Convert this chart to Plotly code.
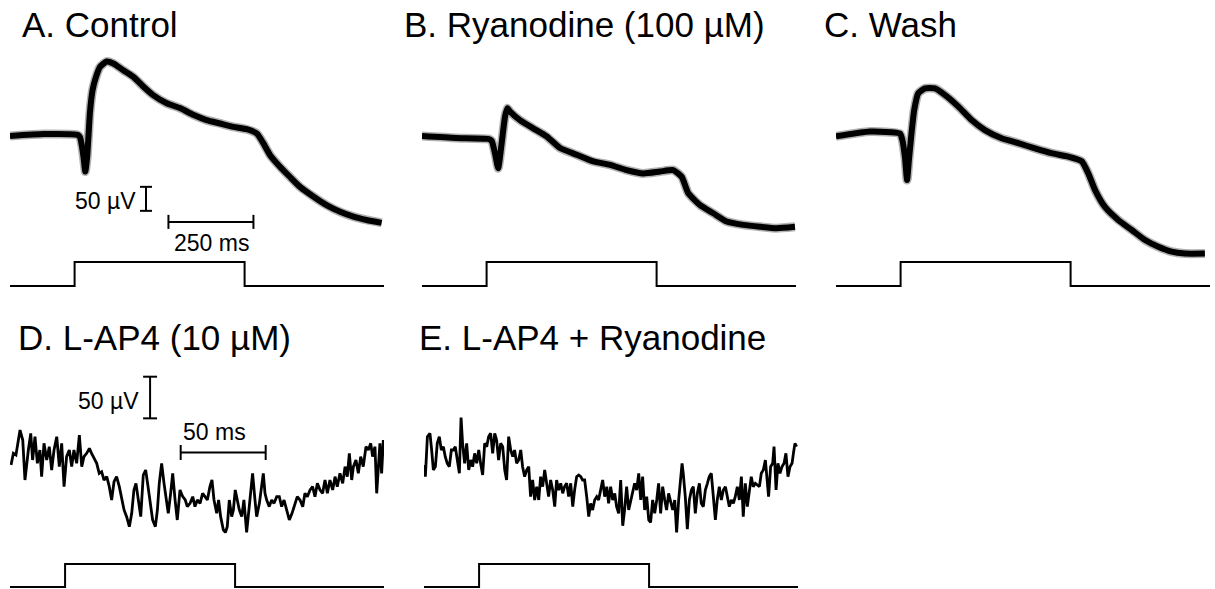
import plotly.graph_objects as go

W, H = 1215, 589

# ---------------- data (time in ms, potential in microvolts) ----------------
a_t = [0, 100, 200, 206, 212, 216, 221.5, 227, 231, 235, 243, 253, 265, 284, 304, 333, 363, 392, 421, 461,
       500, 539, 578, 618, 657, 696, 726, 745, 765, 794, 823, 853, 892, 931, 971, 1010, 1049, 1093]
a_v = [-2, 2, 0, -5, -25, -45, -76, -45, 0, 46, 94, 121, 142, 153, 149, 135, 121, 101, 83, 66,
       56, 42, 31, 24, 17, 12, 3, -17, -42, -66, -87, -108, -128, -146, -160, -170, -177, -183]

b_t = [0, 100, 195, 205, 215, 224, 234, 244, 251, 259, 288, 327, 367, 406, 455, 504, 553, 602, 651, 700,
       739, 764, 783, 818, 857, 896, 945, 994, 1043, 1097]
b_v = [2, -2, -4, -8, -35, -65, -15, 42, 60, 53, 35, 18, 1, -23, -37, -51, -58, -69, -76, -72,
       -69, -83, -117, -142, -159, -176, -183, -187, -190, -187]

c_t = [0, 100, 188, 195, 203, 209, 215, 221, 230, 242, 262, 291, 321, 360, 399, 438, 487, 536, 585,
       634, 683, 723, 742, 762, 791, 830, 870, 909, 948, 987, 1026, 1085]
c_v = [-5, 5, 1, -12, -50, -96, -50, -6, 50, 85, 95, 95, 81, 57, 29, 8, -9, -19, -30,
       -40, -47, -57, -82, -117, -152, -179, -200, -221, -235, -245, -249, -249]

d_t = [0.6, 2.0, 3.5, 5.9, 7.5, 8.8, 10.8, 12.2, 13.3, 14.7,
       16.1, 17.6, 18.6, 20.0, 21.6, 23.1, 24.5, 25.9, 27.5, 29.0,
       30.4, 31.8, 33.3, 34.9, 36.3, 37.6, 39.2, 40.8, 42.2, 43.5,
       45.1, 46.7, 48.0, 49.4, 51.0, 52.5, 53.9, 55.3, 56.9, 58.4,
       59.8, 61.2, 62.7, 64.3, 65.7, 67.1, 68.6, 70.2, 71.6, 72.9,
       74.1, 75.5, 76.9, 78.4, 79.8, 81.2, 82.4, 83.9, 85.5, 86.7,
       87.8, 89.2, 90.6, 92.2, 93.1, 94.5, 95.7, 97.1, 98.4, 100.0,
       101.6, 103.1, 104.3, 105.9, 107.5, 108.8, 110.2, 111.8, 113.3, 114.7,
       116.1, 117.6, 118.8, 120.0, 121.6, 122.7, 123.9, 125.5, 126.7, 127.8,
       129.0, 130.4, 131.4, 132.5, 133.7, 134.9, 136.3, 137.6, 139.2, 140.4,
       141.6, 142.7, 144.1, 145.1, 146.7, 148.0, 149.0, 150.0, 151.0, 152.5,
       153.9, 155.3, 156.9, 158.4, 159.8, 161.2, 162.7, 164.3, 165.9, 167.5,
       169.0, 170.6, 172.2, 173.5, 174.9, 176.5, 178.0, 179.4, 180.8, 182.4,
       183.9, 185.3, 186.7, 188.2, 189.8, 191.2, 192.5, 194.1, 195.7, 197.1,
       198.4, 199.6, 201.0, 202.0, 203.5, 204.9, 206.3, 207.8, 209.4, 210.8,
       212.2, 213.3, 214.7, 215.7, 216.9, 217.6, 218.6, 219.6]
d_v = [6, 20, 18, 48, 36, -12, 24, 44, 12, 40,
       8, 24, -8, 32, 12, 28, 0, 24, 40, 4,
       32, -20, 16, 24, 4, 24, 8, 42, 4, 16,
       20, 26, 20, 14, 8, -4, -2, -12, -8, -20,
       -36, -14, -8, -20, -36, -48, -56, -68, -52, -24,
       -16, -36, -56, -6, 0, -20, -36, -60, -68, -48,
       -16, 8, -16, -36, -52, -28, -4, -36, -60, -24,
       -32, -36, -44, -40, -32, -44, -36, -40, -28, -32,
       -36, -20, -12, -36, -52, -36, -56, -72, -75, -68,
       -36, -56, -48, -24, -36, -48, -56, -36, -75, -52,
       -32, -4, -36, -56, -40, -20, -4, -28, -36, -44,
       -36, -40, -32, -32, -44, -36, -48, -60, -52, -40,
       -32, -36, -44, -28, -32, -24, -20, -32, -16, -24,
       -28, -12, -28, -12, -24, -8, -20, -4, -16, 4,
       -8, 20, -12, 4, 12, -4, 16, 4, 28, 24,
       32, 16, 28, -28, 12, 32, -4, 36]

e_t = [0.0, 0.8, 2.0, 3.5, 4.5, 5.5, 6.7, 7.8, 9.0, 10.2,
       11.4, 12.5, 13.7, 14.9, 16.1, 17.3, 18.4, 19.6, 20.8, 21.8,
       22.7, 23.9, 25.1, 26.3, 27.5, 28.6, 29.8, 31.0, 32.2, 33.3,
       34.5, 35.7, 36.9, 38.0, 39.2, 40.4, 41.6, 42.7, 43.9, 45.1,
       46.3, 47.5, 48.6, 49.8, 51.0, 52.2, 53.3, 54.5, 55.7, 56.9,
       58.0, 59.2, 60.4, 61.6, 62.7, 63.9, 65.1, 66.3, 67.5, 68.6,
       69.8, 71.0, 72.2, 73.3, 74.5, 75.7, 76.9, 78.0, 79.2, 80.4,
       81.6, 82.7, 83.9, 85.1, 86.3, 87.5, 88.6, 89.8, 91.0, 92.2,
       93.3, 94.5, 95.7, 96.9, 98.0, 99.2, 100.4, 101.6, 102.7, 103.9,
       105.1, 106.3, 107.5, 108.6, 109.8, 111.0, 112.2, 113.3, 114.5, 115.7,
       116.9, 118.0, 119.2, 120.4, 121.6, 122.7, 123.9, 125.1, 126.3, 127.5,
       128.6, 129.8, 131.0, 132.2, 133.3, 134.5, 135.7, 136.9, 138.0, 139.2,
       140.4, 141.6, 142.7, 143.9, 145.1, 146.3, 147.5, 148.6, 149.8, 151.0,
       151.8, 152.5, 153.7, 154.9, 156.1, 157.3, 158.4, 159.6, 160.8, 162.0,
       163.1, 164.3, 165.5, 166.7, 167.8, 169.0, 170.2, 171.4, 172.5, 173.7,
       174.9, 176.1, 177.3, 178.4, 179.6, 180.8, 182.0, 183.1, 184.3, 185.5,
       186.7, 187.8, 189.0, 190.2, 191.4, 192.5, 193.7, 194.9, 196.1, 197.3,
       198.4, 199.6, 200.8, 201.6, 202.7, 203.9, 205.1, 205.9, 207.1, 208.2,
       209.4, 210.6, 211.8, 212.9, 214.1, 215.3, 216.5, 217.3, 218.2, 219.2]
e_v = [6, -8, 40, 44, 24, 0, 4, 32, 40, 24,
       28, 16, 8, 4, 24, 24, 28, 12, -4, 63,
       32, 8, 32, 0, 12, 4, 20, 8, 24, 8,
       -6, 32, 28, 40, 44, 20, 44, 36, 12, 32,
       28, 0, -12, 40, 24, 16, 24, 8, 12, 24,
       4, -8, 0, 4, -32, -12, -36, -20, -36, -8,
       -20, 0, -16, -32, -12, -24, -44, -12, -24, -16,
       -28, -20, -16, -32, -16, -44, -24, -8, -6, -8,
       -12, -12, -32, -56, -40, -48, -36, -32, -36, -24,
       -12, -32, -20, -40, -20, -36, -28, -44, -52, -12,
       -67, -48, -20, -48, -36, -28, -16, -24, -4, -36,
       -8, -48, -32, -60, -63, -36, -52, -36, -16, -52,
       -20, -36, -48, -28, -40, -48, -36, -75, -36, -8,
       8, -4, -32, -71, -36, -24, -20, -52, -28, -16,
       -40, -44, -24, -16, -8, -4, -28, -60, -36, -20,
       -36, -24, -20, -32, -44, -36, -40, -32, -20, -36,
       -8, -56, -16, -44, -28, -8, -20, -16, -18, -20,
       -4, 0, 12, -8, -32, 4, 8, 28, -24, 8,
       -4, 4, 8, 20, -8, 4, 8, 20, 32, 28]

# stimulus protocols (ms on, ms off, trace length)
stim_long = [0, 190, 190, 690, 690, 1100]
stim_short = [0, 32.4, 32.4, 132.4, 132.4, 220]
stim_level = [0, 0, 1, 1, 0, 0]

titles = ["A. Control", "B. Ryanodine (100 µM)", "C. Wash", "D. L-AP4 (10 µM)", "E. L-AP4 + Ryanodine"]
scale_long = {"uv": 50, "ms": 250}
scale_short = {"uv": 50, "ms": 50}

# ---------------- layout helpers (pixel placement) ----------------
fig = go.Figure()
layout = {}
FONT = "Liberation Sans, Arial, sans-serif"


def add_axes(n, x0, sx, t_max, zero_py, sy, top_py, bot_py):
    xa = "xaxis" if n == 1 else f"xaxis{n}"
    ya = "yaxis" if n == 1 else f"yaxis{n}"
    layout[xa] = dict(domain=[x0 / W, (x0 + t_max * sx) / W], range=[0, t_max],
                      visible=False, fixedrange=True, anchor=f"y{n}" if n > 1 else "y")
    layout[ya] = dict(domain=[1 - bot_py / H, 1 - top_py / H],
                      range=[(zero_py - bot_py) / sy, (zero_py - top_py) / sy],
                      visible=False, fixedrange=True, anchor=f"x{n}" if n > 1 else "x")
    return ("x" if n == 1 else f"x{n}"), ("y" if n == 1 else f"y{n}")


panels = [
    dict(t=a_t, v=a_v, x0=10, zero=135, sx=0.34, sy=0.48, tmax=1100, top=30, bot=250, w=6, halo=True),
    dict(t=b_t, v=b_v, x0=422, zero=137, sx=0.34, sy=0.48, tmax=1100, top=30, bot=250, w=6, halo=True),
    dict(t=c_t, v=c_v, x0=836, zero=134, sx=0.34, sy=0.48, tmax=1100, top=30, bot=270, w=6, halo=True),
    dict(t=d_t, v=d_v, x0=10, zero=470, sx=1.7, sy=0.833, tmax=220, top=365, bot=545, w=2.8, halo=False),
    dict(t=e_t, v=e_v, x0=424, zero=470, sx=1.7, sy=0.833, tmax=220, top=365, bot=545, w=2.8, halo=False),
]

n = 1
axes_refs = []
for p in panels:
    xr, yr = add_axes(n, p["x0"], p["sx"], p["tmax"], p["zero"], p["sy"], p["top"], p["bot"])
    if p["halo"]:
        # faint envelope imitating the high-frequency noise band of the recording
        fig.add_trace(go.Scatter(x=p["t"], y=p["v"], mode="lines", xaxis=xr, yaxis=yr,
                                 line=dict(color="rgba(0,0,0,0.3)", width=9, shape="spline", smoothing=0.5),
                                 hoverinfo="skip"))
        fig.add_trace(go.Scatter(x=p["t"], y=p["v"], mode="lines", xaxis=xr, yaxis=yr,
                                 line=dict(color="black", width=p["w"], shape="spline", smoothing=0.5),
                                 hoverinfo="skip"))
    else:
        fig.add_trace(go.Scatter(x=p["t"], y=p["v"], mode="lines", xaxis=xr, yaxis=yr,
                                 line=dict(color="black", width=p["w"]), hoverinfo="skip"))
    axes_refs.append((xr, yr))
    n += 1

stim_cfg = [
    dict(x0=10, sx=0.34, tmax=1100, zero=286, sy=24, top=250, bot=300, t=stim_long),
    dict(x0=422, sx=0.34, tmax=1100, zero=286, sy=24, top=250, bot=300, t=stim_long),
    dict(x0=836, sx=0.34, tmax=1100, zero=286, sy=24, top=250, bot=300, t=stim_long),
    dict(x0=10, sx=1.7, tmax=220, zero=587, sy=23, top=550, bot=589, t=stim_short),
    dict(x0=424, sx=1.7, tmax=220, zero=587, sy=23, top=550, bot=589, t=stim_short),
]
for s in stim_cfg:
    xr, yr = add_axes(n, s["x0"], s["sx"], s["tmax"], s["zero"], s["sy"], s["top"], s["bot"])
    fig.add_trace(go.Scatter(x=s["t"], y=stim_level, mode="lines", xaxis=xr, yaxis=yr,
                             line=dict(color="black", width=2), hoverinfo="skip"))
    n += 1


def scale_bar(ax, t_v, v_top, t_h0, v_h, scale, cap_t, cap_v):
    xr, yr = ax
    uv, ms = scale["uv"], scale["ms"]
    xs = [t_v - cap_t, t_v + cap_t, None, t_v, t_v, None, t_v - cap_t, t_v + cap_t,
          None, t_h0, t_h0 + ms, None, t_h0, t_h0, None, t_h0 + ms, t_h0 + ms]
    ys = [v_top, v_top, None, v_top, v_top - uv, None, v_top - uv, v_top - uv,
          None, v_h, v_h, None, v_h - cap_v, v_h + cap_v, None, v_h - cap_v, v_h + cap_v]
    fig.add_trace(go.Scatter(x=xs, y=ys, mode="lines", xaxis=xr, yaxis=yr,
                             line=dict(color="black", width=2), hoverinfo="skip"))


scale_bar(axes_refs[0], 400, -108, 466, -181, scale_long, 17.6, 14.6)
scale_bar(axes_refs[3], 82.4, 112, 100.4, 21, scale_short, 4.1, 9)

annotations = []


def txt(s, x, y, size, xanchor="left"):
    annotations.append(dict(text=s, x=x / W, y=1 - y / H, xref="paper", yref="paper",
                            xanchor=xanchor, yanchor="middle", showarrow=False,
                            font=dict(family=FONT, size=size, color="black")))


title_pos = [(20, 25), (402, 25), (822, 25), (16, 337), (417, 337)]
for t, (x, y) in zip(titles, title_pos):
    txt(t, x, y, 35)

txt("50 µV", 138, 201, 23, "right")
txt("250 ms", 211, 243, 23, "center")
txt("50 µV", 141, 401, 23, "right")
txt("50 ms", 214, 432, 23, "center")

layout.update(dict(width=W, height=H, margin=dict(l=0, r=0, t=0, b=0),
                   paper_bgcolor="white", plot_bgcolor="rgba(0,0,0,0)", showlegend=False,
                   annotations=annotations))
fig.update_layout(**layout)
fig.write_html("out.html", config={"displayModeBar": False, "staticPlot": True},
               post_script="document.body.style.margin='0';document.body.style.overflow='hidden';")
